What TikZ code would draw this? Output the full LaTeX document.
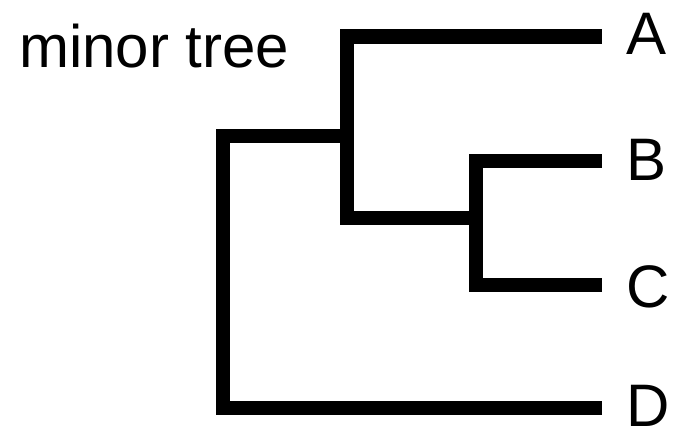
\documentclass[tikz,border=0pt]{standalone}
\usepackage{fontspec}
\setmainfont{Liberation Sans}
\usetikzlibrary{positioning}

\begin{document}
\begin{tikzpicture}[
    x=1pt, y=-1pt,
    branch/.style={line width=14.5pt, line join=miter, line cap=butt},
    leaf/.style={anchor=base west, inner sep=0pt, font=\fontsize{60}{60}\selectfont},
    caption/.style={anchor=base west, inner sep=0pt, font=\fontsize{60}{60}\selectfont}
]
\useasboundingbox (0,0) rectangle (677,431);

% Nodes
\node (title) [caption] at (19,67.3) {minor tree};
\node (A) [leaf] at (626,54) {A};
\node (B) [leaf] at (626,180) {B};
\node (C) [leaf] at (626,307) {C};
\node (D) [leaf] at (626,426.5) {D};

% Branch tips and joins
\coordinate (tipA) at (601.7,36.5);
\coordinate (tipB) at (601.7,161);
\coordinate (tipC) at (601.7,285);
\coordinate (tipD) at (601.7,408);
\coordinate (root) at (223,136);
\coordinate (abc) at (347,136);
\coordinate (bc) at (476,218);

% Branches
\draw [branch] (tipA) -| (bc -| abc) -- (bc);
\draw [branch] (tipB) -| (tipC -| bc) -- (tipC);
\draw [branch] (abc) -- (root) |- (tipD);

\end{tikzpicture}
\end{document}
